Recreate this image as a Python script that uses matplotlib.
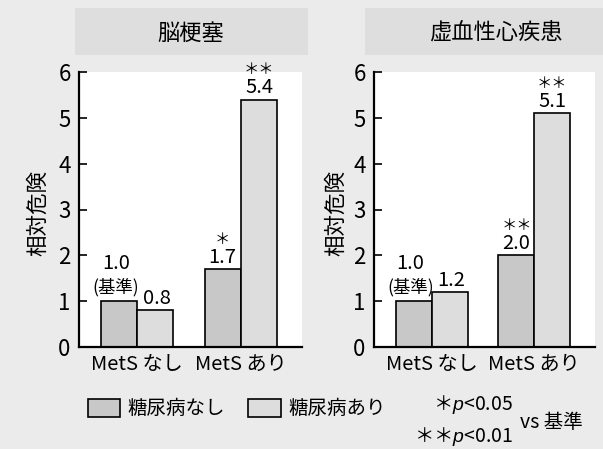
import matplotlib
matplotlib.use('Agg')
import matplotlib.pyplot as plt
from matplotlib.patches import Patch, Rectangle
import numpy as np

plt.rcParams['font.family'] = ['Noto Sans CJK JP', 'DejaVu Sans']
plt.rcParams['mathtext.fontset'] = 'custom'
plt.rcParams['mathtext.it'] = 'Liberation Sans:italic'

# data
groups = ['MetS なし', 'MetS あり']
titles = ['脳梗塞', '虚血性心疾患']
series_names = ['糖尿病なし', '糖尿病あり']

stroke_no_dm = [1.0, 1.7]
stroke_dm = [0.8, 5.4]
stroke_sig_no_dm = ['', '＊']
stroke_sig_dm = ['', '＊＊']

ihd_no_dm = [1.0, 2.0]
ihd_dm = [1.2, 5.1]
ihd_sig_no_dm = ['', '＊＊']
ihd_sig_dm = ['', '＊＊']

yticks = [0, 1, 2, 3, 4, 5, 6]

bg = '#ebebeb'
band = '#dedede'
col_no_dm = '#c8c8c8'
col_dm = '#dddddd'

W, H = 603, 449
fig = plt.figure(figsize=(W / 100, H / 100), dpi=100, facecolor=bg)

# title bands
fig.patches.append(Rectangle((75 / W, 1 - 55 / H), 233 / W, 47 / H, transform=fig.transFigure,
                             facecolor=band, edgecolor='none', zorder=0))
fig.patches.append(Rectangle((365 / W, 1 - 55 / H), 238 / W, 47 / H, transform=fig.transFigure,
                             facecolor=band, edgecolor='none', zorder=0))

panels = [
    (titles[0], stroke_no_dm, stroke_dm, stroke_sig_no_dm, stroke_sig_dm, 79, 302, 191, 30),
    (titles[1], ihd_no_dm, ihd_dm, ihd_sig_no_dm, ihd_sig_dm, 374, 595, 496, 27),
]

bw = 0.35
x = np.arange(len(groups))

for title, no_dm, dm, sig_no, sig_dm, left, right, tx, lab_off in panels:
    ax = fig.add_axes([left / W, 1 - 347 / H, (right - left) / W, 275 / H])
    ax.set_facecolor('white')
    ax.bar(x - bw / 2, no_dm, bw, color=col_no_dm, edgecolor='black', linewidth=1.2, zorder=2)
    ax.bar(x + bw / 2, dm, bw, color=col_dm, edgecolor='black', linewidth=1.2, zorder=2)
    ax.set_xlim(-0.56, 1.59)
    ax.set_ylim(0, 6)
    ax.set_yticks(yticks)
    ax.set_xticks(x)
    ax.set_xticklabels(groups, fontsize=14.5)
    ax.tick_params(axis='y', direction='in', length=6, width=1.2, labelsize=16, pad=6)
    ax.tick_params(axis='x', length=0, pad=5)
    for s in ['top', 'right']:
        ax.spines[s].set_visible(False)
    ax.spines['left'].set_linewidth(1.6)
    ax.spines['bottom'].set_linewidth(1.6)
    ax.set_ylabel('相対危険', fontsize=15.5)
    ax.yaxis.set_label_coords(-lab_off / (right - left), 0.487)

    # value labels
    for i in range(len(groups)):
        for xx, v, sig in [(x[i] - bw / 2, no_dm[i], sig_no[i]), (x[i] + bw / 2, dm[i], sig_dm[i])]:
            if i == 0 and xx < x[i]:
                ax.annotate('(基準)', (xx, v), xytext=(-3, 14), textcoords='offset pixels',
                            ha='center', va='center', fontsize=12.5)
                ax.annotate(f'{v:.1f}', (xx, v), xytext=(-3, 38), textcoords='offset pixels',
                            ha='center', va='center', fontsize=14.5)
                continue
            ax.annotate(f'{v:.1f}', (xx, v), xytext=(2 if i == 0 else 0, 12),
                        textcoords='offset pixels', ha='center', va='center', fontsize=14.5)
            if sig:
                ax.annotate(sig, (xx, v), xytext=(0, 30), textcoords='offset pixels',
                            ha='center', va='center', fontsize=11)

    fig.text(tx / W, 1 - 33 / H, title, ha='center', va='center', fontsize=16)

# legend
handles = [Patch(facecolor=col_no_dm, edgecolor='black', linewidth=1.2),
           Patch(facecolor=col_dm, edgecolor='black', linewidth=1.2)]
fig.legend(handles, series_names, loc='center left', bbox_to_anchor=(78 / W, 1 - 409 / H),
           ncol=2, frameon=False, fontsize=14, borderpad=0, handlelength=1.65,
           handleheight=1.1, handletextpad=0.4, columnspacing=1.2)

fig.text(513 / W, 1 - 405 / H, '＊$p$<0.05', ha='right', va='center', fontsize=14)
fig.text(513 / W, 1 - 436 / H, '＊＊$p$<0.01', ha='right', va='center', fontsize=14)
fig.text(520 / W, 1 - 422 / H, 'vs 基準', ha='left', va='center', fontsize=14)

fig.savefig('out.png', dpi=100, facecolor=bg)
